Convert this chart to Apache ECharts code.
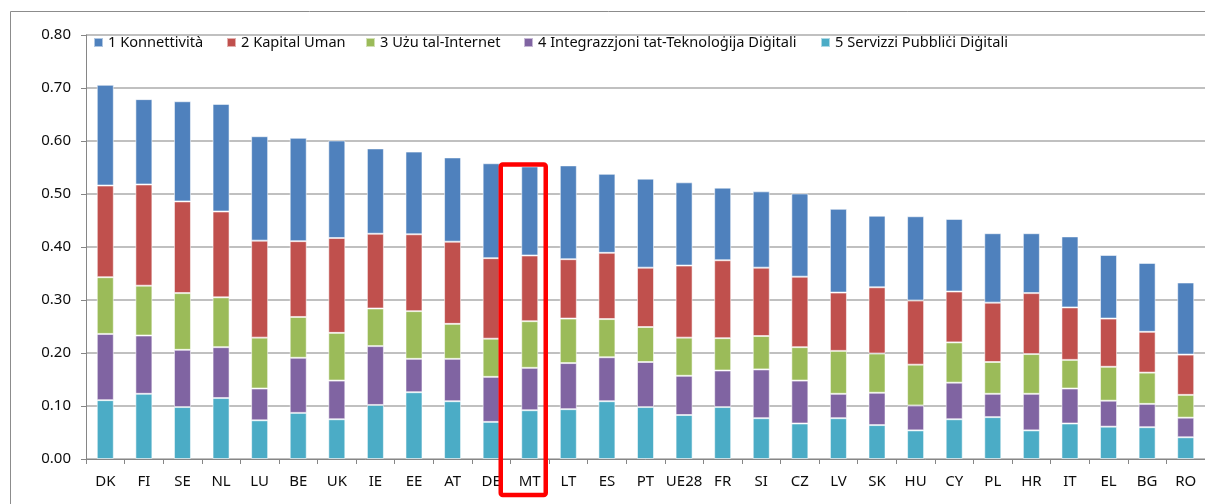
<!DOCTYPE html>
<html>
<head>
<meta charset="utf-8">
<script src="https://cdn.jsdelivr.net/npm/echarts@6/dist/echarts.min.js"></script>
<style>
html,body{margin:0;padding:0;background:#fff;}
#c{width:1205px;height:504px;}
</style>
</head>
<body>
<div id="c"></div>
<script>
const categories = ['DK','FI','SE','NL','LU','BE','UK','IE','EE','AT','DE','MT','LT','ES','PT','UE28','FR','SI','CZ','LV','SK','HU','CY','PL','HR','IT','EL','BG','RO'];
const seriesNames = ['1 Konnettività','2 Kapital Uman','3 Użu tal-Internet','4 Integrazzjoni tat-Teknoloġija Diġitali','5 Servizzi Pubbliċi Diġitali'];
const connectivity = [0.190,0.161,0.189,0.203,0.197,0.195,0.184,0.161,0.156,0.159,0.179,0.168,0.177,0.149,0.168,0.157,0.137,0.144,0.157,0.158,0.135,0.159,0.137,0.131,0.113,0.134,0.120,0.130,0.136];
const humanCapital = [0.173,0.191,0.173,0.162,0.183,0.143,0.179,0.141,0.145,0.155,0.152,0.124,0.112,0.125,0.112,0.136,0.147,0.129,0.133,0.110,0.125,0.121,0.096,0.112,0.115,0.099,0.091,0.077,0.076];
const internetUse = [0.107,0.094,0.107,0.094,0.096,0.077,0.090,0.071,0.090,0.066,0.072,0.088,0.084,0.072,0.066,0.072,0.061,0.063,0.063,0.081,0.074,0.077,0.076,0.060,0.075,0.054,0.064,0.059,0.043];
const digitalTech = [0.125,0.110,0.108,0.096,0.060,0.104,0.073,0.111,0.063,0.080,0.085,0.080,0.087,0.083,0.085,0.074,0.069,0.092,0.081,0.046,0.061,0.047,0.069,0.044,0.069,0.066,0.049,0.044,0.037];
const publicServices = [0.111,0.123,0.098,0.115,0.073,0.087,0.075,0.102,0.126,0.109,0.070,0.092,0.094,0.109,0.098,0.083,0.098,0.077,0.067,0.077,0.064,0.054,0.075,0.079,0.054,0.067,0.061,0.060,0.041];
const yTicks = [0,0.1,0.2,0.3,0.4,0.5,0.6,0.7,0.8];
const highlighted = 'MT';

const colors = ['#4F81BD','#C0504D','#9BBB59','#8064A2','#4BACC6'];
const values = [connectivity, humanCapital, internetUse, digitalTech, publicServices];
const FONT = 'Noto Sans';

const chart = echarts.init(document.getElementById('c'), null, {renderer:'canvas'});

// stacking order: series 5 at bottom, series 1 at top
const series = [4,3,2,1,0].map(i => ({
  name: seriesNames[i],
  type: 'bar',
  stack: 'total',
  data: values[i],
  barWidth: 17,
  itemStyle: {color: colors[i], borderColor: 'rgba(255,255,255,0.55)', borderWidth: 1},
  emphasis: {disabled: true},
  animation: false
}));

const legendLeft = [93, 226, 365, 523, 820];
const legends = seriesNames.map((n, i) => ({
  data: [n],
  left: legendLeft[i],
  top: 35,
  itemWidth: 9,
  itemHeight: 9,
  icon: 'rect',
  padding: 0,
  itemGap: 0,
  selectedMode: false,
  textStyle: {fontFamily: FONT, fontSize: 14.6, color: '#0d0d0d', padding: [2,0,0,0]}
}));

chart.setOption({
  animation: false,
  backgroundColor: '#fff',
  legend: legends,
  grid: {left: 86, top: 35, width: 29 * 38.9, height: 424, containLabel: false},
  xAxis: {
    type: 'category',
    data: categories,
    boundaryGap: true,
    axisLine: {show: true, lineStyle: {color: '#868686', width: 1}},
    axisTick: {show: true, interval: 0, length: 5, lineStyle: {color: '#868686'}},
    axisLabel: {interval: 0, margin: 15, fontFamily: FONT, fontSize: 15, color: '#0d0d0d'}
  },
  yAxis: {
    type: 'value',
    min: yTicks[0],
    max: yTicks[yTicks.length - 1],
    interval: 0.1,
    axisLine: {show: true, lineStyle: {color: '#868686', width: 1}},
    axisTick: {show: true, length: 5, lineStyle: {color: '#868686'}},
    splitLine: {show: true, lineStyle: {color: '#ababab', width: 1.5}},
    axisLabel: {margin: 15, fontFamily: FONT, fontSize: 15, color: '#0d0d0d', formatter: v => v.toFixed(2)}
  },
  series: series
});

// highlight box around MT and outer chart border
const idx = categories.indexOf(highlighted);
let total = 0;
values.forEach(arr => total += arr[idx]);
const p = chart.convertToPixel({xAxisIndex: 0, yAxisIndex: 0}, [highlighted, total]);
chart.setOption({
  graphic: [
    {type: 'rect', silent: true, shape: {x: 10.5, y: 11.5, width: 1300, height: 600},
     style: {fill: 'none', stroke: '#8c8c8c', lineWidth: 1}},
    {type: 'rect', silent: true, z: 100,
     shape: {x: p[0] - 29, y: p[1] - 2, width: 45, height: 495 - (p[1] - 2), r: 2},
     style: {fill: 'none', stroke: '#ff0000', lineWidth: 4.5}}
  ]
});
</script>
</body>
</html>
